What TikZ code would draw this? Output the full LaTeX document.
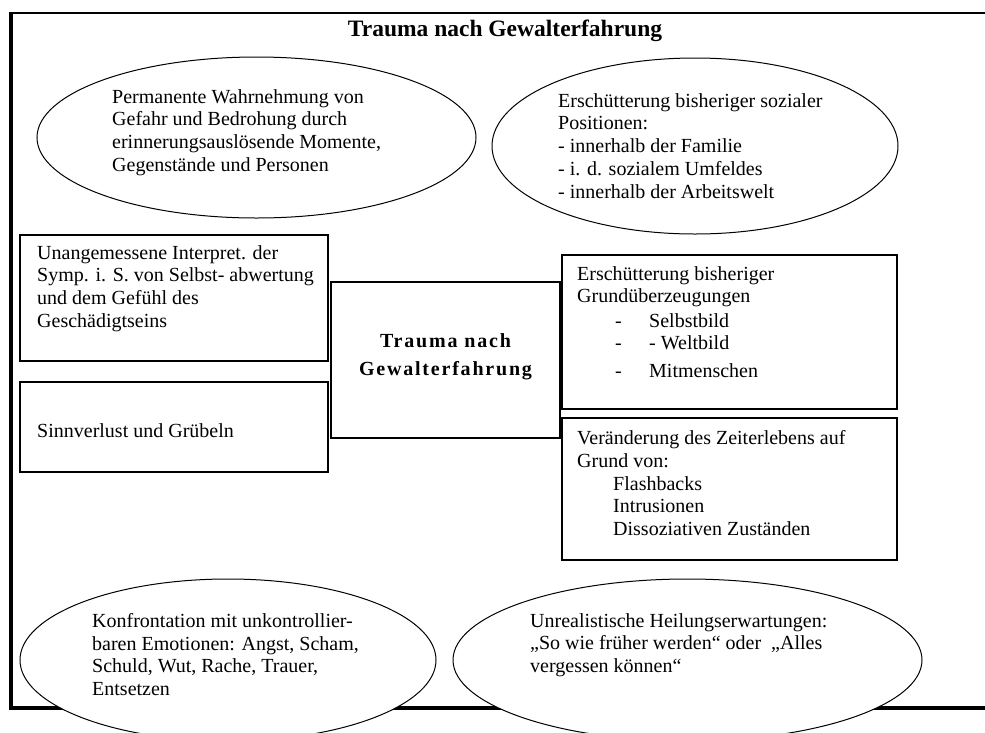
\documentclass[tikz,border=0pt]{standalone}
\usepackage{fontspec}
\setmainfont{Liberation Serif}
\usetikzlibrary{shapes.geometric}
\begin{document}
\begin{tikzpicture}[x=1pt,y=-1pt,
  oval/.style={draw, ellipse, line width=1pt, fill=white, inner sep=0pt},
  panel/.style={draw, line width=1.3pt, fill=white, inner sep=0pt},
  txt/.style={anchor=north west, align=left, inner sep=0pt, font=\fontsize{20}{22.8}\selectfont},
  headline/.style={inner sep=0pt, font=\fontsize{23.5}{27}\selectfont\bfseries},
  core/.style={align=center, inner sep=0pt, font=\fontsize{20}{28}\selectfont\bfseries\addfontfeatures{LetterSpace=9}},
]
\useasboundingbox (0,0) rectangle (985,732);
% frame
\draw[line width=2pt] (985,13) -- (11,13);
\draw[line width=3.2pt] (11,12) -- (11,708) -- (985,708);
% title
\node[headline] (title) at (505,31) {Trauma nach Gewalterfahrung};
% ellipses
\node[oval, minimum width=439pt, minimum height=161pt] (e1) at (256.5,137.5) {};
\node[oval, minimum width=406pt, minimum height=176pt] (e2) at (695,146) {};
\node[oval, minimum width=416pt, minimum height=162pt] (e3) at (228,660) {};
\node[oval, minimum width=469pt, minimum height=162pt] (e4) at (687.5,660) {};
% boxes
\node[panel, minimum width=308pt, minimum height=126pt] (bA) at (174,298) {};
\node[panel, minimum width=308pt, minimum height=90pt] (bB) at (174,427) {};
\node[panel, minimum width=229pt, minimum height=156pt] (bM) at (445.5,360) {};
\node[panel, minimum width=335pt, minimum height=154pt] (bC) at (729.5,332) {};
\node[panel, minimum width=335pt, minimum height=142pt] (bD) at (729.5,489) {};
% texts
\node[core] (tM) at (445.5,357) {Trauma nach\\Gewalterfahrung};
\node[txt] (t1) at (112,89) {Permanente Wahrnehmung von\\Gefahr und Bedrohung durch\\erinnerungsauslösende Momente,\\Gegenstände und Personen};
\node[txt] (t2) at (558,93) {Erschütterung bisheriger sozialer\\Positionen:\\- innerhalb der Familie\\- i. d. sozialem Umfeldes\\- innerhalb der Arbeitswelt};
\node[txt] (tA) at (37,245) {Unangemessene Interpret. der\\Symp. i. S. von Selbst- abwertung\\und dem Gefühl des\\Geschädigtseins};
\node[txt] (tB) at (37,423) {Sinnverlust und Grübeln};
\node[txt] (tC) at (577,266) {Erschütterung bisheriger\\Grundüberzeugungen};
\node[txt] (tCd) at (615,313) {\vphantom{Sl}-\\-\\[5pt]-};
\node[txt] (tCi) at (649,313) {Selbstbild\\- Weltbild\\[5pt]Mitmenschen};
\node[txt] (tD) at (577,430) {Veränderung des Zeiterlebens auf\\Grund von:};
\node[txt] (tDi) at (613,476) {Flashbacks\\Intrusionen\\Dissoziativen Zuständen};
\node[txt] (t3) at (92,613) {Konfrontation mit unkontrollier-\\baren Emotionen: Angst, Scham,\\Schuld, Wut, Rache, Trauer,\\Entsetzen};
\node[txt] (t4) at (530,613) {Unrealistische Heilungserwartungen:\\„So wie früher werden“ oder~ „Alles\\vergessen können“};
\end{tikzpicture}
\end{document}
